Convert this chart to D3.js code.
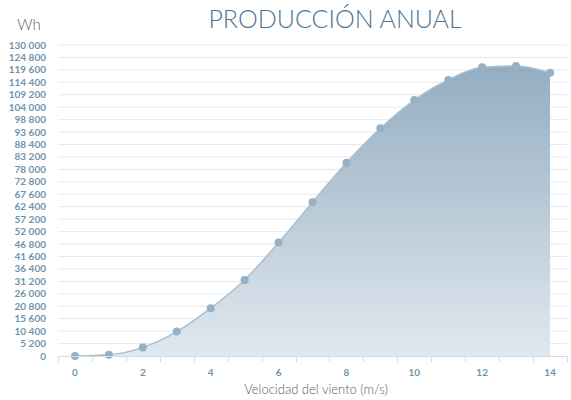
<!DOCTYPE html>
<html>
<head>
<meta charset="utf-8">
<script src="https://cdn.jsdelivr.net/npm/d3@7"></script>
<style>
  body { margin: 0; background: #fff; }
  text { font-family: Lato, "Open Sans", sans-serif; }
</style>
</head>
<body>
<svg id="chart" width="571" height="400"></svg>
<script>
var speeds = [0, 1, 2, 3, 4, 5, 6, 7, 8, 9, 10, 11, 12, 13, 14];
var energy = [0, 500, 3600, 10200, 20000, 31800, 47400, 64300, 80800, 95200, 107000, 115400, 120700, 121200, 118400];
var yTicks = d3.range(0, 130001, 5200);
var xLabels = [0, 2, 4, 6, 8, 10, 12, 14];

var svg = d3.select("#chart"),
    margin = {top: 45, left: 58, right: 4, bottom: 44},
    width = +svg.attr("width"),
    height = +svg.attr("height");

var x = d3.scaleBand()
    .domain(speeds)
    .range([margin.left, width - margin.right])
    .paddingInner(0).paddingOuter(0);

var y = d3.scaleLinear()
    .domain([0, 130000])
    .range([height - margin.bottom, margin.top]);

var cx = function(d) { return x(d) + x.bandwidth() / 2; };

var grad = svg.append("defs").append("linearGradient")
    .attr("id", "fillGrad")
    .attr("x1", 0).attr("y1", 0).attr("x2", 0).attr("y2", 1);
grad.append("stop").attr("offset", "0%").attr("stop-color", "#8ea9be");
grad.append("stop").attr("offset", "100%").attr("stop-color", "#dfe7ee");

// gridlines
svg.append("g").selectAll("line")
    .data(yTicks.slice(1))
    .enter().append("line")
    .attr("x1", margin.left).attr("x2", width - margin.right)
    .attr("y1", function(d) { return y(d); })
    .attr("y2", function(d) { return y(d); })
    .attr("stroke", "#e3eaf1")
    .attr("stroke-width", 1);

// y labels
svg.append("g").selectAll("text")
    .data(yTicks)
    .enter().append("text")
    .attr("x", 46)
    .attr("y", function(d) { return y(d); })
    .attr("dy", "0.35em")
    .attr("text-anchor", "end")
    .attr("fill", "#6f93ad")
    .style("font-size", "10px")
    .style("font-weight", "bold")
    .text(function(d) { return d3.format(",")(d).replace(/,/g, " "); });

var pts = speeds.map(function(s, i) { return [cx(s), y(energy[i])]; });

var area = d3.area()
    .x(function(d) { return d[0]; })
    .y0(y(0))
    .y1(function(d) { return d[1]; })
    .curve(d3.curveMonotoneX);

var line = d3.line()
    .x(function(d) { return d[0]; })
    .y(function(d) { return d[1]; })
    .curve(d3.curveMonotoneX);

svg.append("path")
    .datum(pts)
    .attr("d", area)
    .attr("fill", "url(#fillGrad)")
    .attr("fill-opacity", 0.95);

svg.append("path")
    .datum(pts)
    .attr("d", line)
    .attr("fill", "none")
    .attr("stroke", "#a9bfcf")
    .attr("stroke-width", 1.5);

svg.append("g").selectAll("circle")
    .data(pts)
    .enter().append("circle")
    .attr("cx", function(d) { return d[0]; })
    .attr("cy", function(d) { return d[1]; })
    .attr("r", 4)
    .attr("fill", "#97b1c4");

// x axis
var xAxis = svg.append("g");
xAxis.append("line")
    .attr("x1", margin.left).attr("x2", width - margin.right)
    .attr("y1", y(0) + 0.5).attr("y2", y(0) + 0.5)
    .attr("stroke", "#d3dde6");
var bounds = speeds.map(function(s) { return x(s); }).concat([width - margin.right]);
xAxis.selectAll(".tk")
    .data(bounds)
    .enter().append("line")
    .attr("x1", function(d) { return Math.round(d) + 0.5; })
    .attr("x2", function(d) { return Math.round(d) + 0.5; })
    .attr("y1", y(0)).attr("y2", y(0) + 6)
    .attr("stroke", "#d3dde6");
xAxis.selectAll("text")
    .data(xLabels)
    .enter().append("text")
    .attr("x", function(d) { return cx(d); })
    .attr("y", y(0) + 20)
    .attr("text-anchor", "middle")
    .attr("fill", "#6f93ad")
    .style("font-size", "10px")
    .style("font-weight", "bold")
    .text(function(d) { return d; });

svg.append("text")
    .attr("x", 316).attr("y", 394)
    .attr("text-anchor", "middle")
    .attr("fill", "#555d63")
    .style("font-size", "13px")
    .style("font-weight", "300")
    .text("Velocidad del viento (m/s)");

svg.append("text")
    .attr("x", 29).attr("y", 30)
    .attr("text-anchor", "middle")
    .attr("fill", "#555d63")
    .style("font-size", "15px")
    .style("font-weight", "300")
    .text("Wh");

svg.append("text")
    .attr("x", 335).attr("y", 28)
    .attr("text-anchor", "middle")
    .attr("fill", "#4f7591")
    .style("font-size", "25px")
    .style("font-weight", "300")
    .text("PRODUCCIÓN ANUAL");
</script>
</body>
</html>
